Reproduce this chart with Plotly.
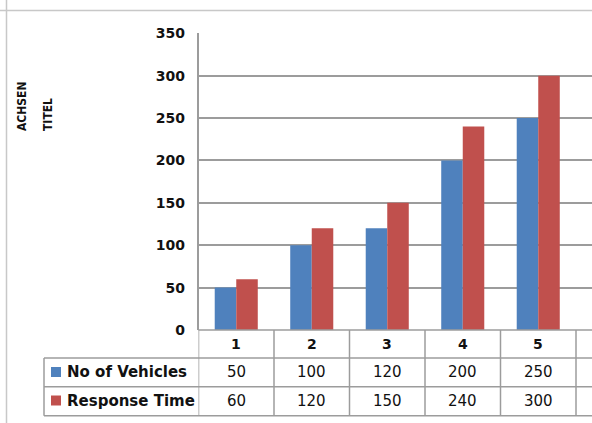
import plotly.graph_objects as go

# Chart data
categories = [1, 2, 3, 4, 5]
category_labels = ["1", "2", "3", "4", "5"]
vehicles = [50, 100, 120, 200, 250]
response_time = [60, 120, 150, 240, 300]
series_names = ["No of Vehicles", "Response Time"]
y_ticks = [0, 50, 100, 150, 200, 250, 300, 350]
axis_title_lines = ["ACHSEN", "TITEL"]

BLUE = "#4F81BD"
RED = "#C0504D"
GRID = "#9c9c9c"
FONT = "'DejaVu Sans', Verdana, sans-serif"
TITLE_FONT = "'DejaVu Sans Condensed', 'Liberation Sans Narrow', 'DejaVu Sans', sans-serif"

W, H = 592, 423


def px_x(x):
    return x / W


def px_y(y):
    return (H - y) / H


fig = go.Figure()
fig.add_trace(go.Bar(x=categories, y=vehicles, name=series_names[0],
                     marker=dict(color=BLUE, line=dict(width=0))))
fig.add_trace(go.Bar(x=categories, y=response_time, name=series_names[1],
                     marker=dict(color=RED, line=dict(width=0))))

plot_left = 198.5
cat_w = 75.5
x_max = 0.5 + (W - plot_left) / cat_w
y_top_px, y_bot_px = 33.3, 330

fig.update_layout(
    width=W, height=H, autosize=False,
    margin=dict(l=0, r=0, t=0, b=0, pad=0),
    paper_bgcolor="white", plot_bgcolor="white",
    barmode="group", bargap=0.43, bargroupgap=0,
    showlegend=False,
    font=dict(family=FONT, color="#111"),
    xaxis=dict(domain=[px_x(plot_left), 1], range=[0.5, x_max],
               showticklabels=False, showgrid=False, zeroline=False,
               showline=False, fixedrange=True, automargin=False),
    yaxis=dict(domain=[px_y(y_bot_px), px_y(y_top_px)], range=[0, 350],
               tickvals=y_ticks, showgrid=True, gridcolor=GRID, gridwidth=1.5,
               zeroline=False, showline=True, linecolor=GRID, linewidth=1.5,
               ticks="", ticklabelstandoff=9, automargin=False,
               tickfont=dict(family=FONT, size=14, color="#111", weight="bold"),
               fixedrange=True),
)

shapes = []
line_style = dict(color=GRID, width=1.5)

# outer frame lines (top and left)
shapes.append(dict(type="line", xref="paper", yref="paper",
                   x0=0, x1=1, y0=px_y(10.5), y1=px_y(10.5),
                   line=dict(color="#c8c8c8", width=1.5)))
shapes.append(dict(type="line", xref="paper", yref="paper",
                   x0=px_x(6.5), x1=px_x(6.5), y0=0, y1=1,
                   line=dict(color="#c8c8c8", width=1.5)))

# data table grid
row_lines = [330, 358, 386.7, 415.7]
for i, yl in enumerate(row_lines):
    x0 = plot_left if i == 0 else 44
    shapes.append(dict(type="line", xref="paper", yref="paper",
                       x0=px_x(x0), x1=1, y0=px_y(yl), y1=px_y(yl),
                       line=line_style))
# left edge of legend column
shapes.append(dict(type="line", xref="paper", yref="paper",
                   x0=px_x(44), x1=px_x(44), y0=px_y(358), y1=px_y(415.7),
                   line=line_style))
# column boundaries
for b in [0.5 + k for k in range(len(categories) + 1)]:
    shapes.append(dict(type="line", xref="x", yref="paper",
                       x0=b, x1=b, y0=px_y(330), y1=px_y(415.7),
                       line=line_style))

# legend keys in the table
key_rows = [372, 400.5]
for color, yc in zip([BLUE, RED], key_rows):
    shapes.append(dict(type="rect", xref="paper", yref="paper",
                       x0=px_x(51), x1=px_x(61), y0=px_y(yc + 5), y1=px_y(yc - 5),
                       fillcolor=color, line=dict(width=0)))

fig.update_layout(shapes=shapes)

ann = []
# category header
for c, lab in zip(categories, category_labels):
    ann.append(dict(x=c, y=px_y(344), xref="x", yref="paper", text=lab,
                    showarrow=False, xanchor="center", yanchor="middle",
                    font=dict(family=FONT, size=14, color="#111", weight="bold")))
# table rows
for name, vals, yc in zip(series_names, [vehicles, response_time], key_rows):
    ann.append(dict(x=px_x(65), y=px_y(yc), xref="paper", yref="paper",
                    text=name, showarrow=False, xanchor="left", yanchor="middle",
                    font=dict(family=FONT, size=15, color="#111", weight="bold")))
    for c, v in zip(categories, vals):
        ann.append(dict(x=c, y=px_y(yc), xref="x", yref="paper", text=str(v),
                        showarrow=False, xanchor="center", yanchor="middle",
                        font=dict(family=FONT, size=15, color="#111")))
# vertical axis title
for xc, line in zip([22, 47.5], axis_title_lines):
    ann.append(dict(x=px_x(xc), y=px_y(133), xref="paper", yref="paper",
                    text=line, showarrow=False, textangle=-90,
                    xanchor="center", yanchor="bottom",
                    font=dict(family=TITLE_FONT, size=12, color="#111", weight="bold")))
fig.update_layout(annotations=ann)

fig.write_html("out.html", config={"displayModeBar": False})
